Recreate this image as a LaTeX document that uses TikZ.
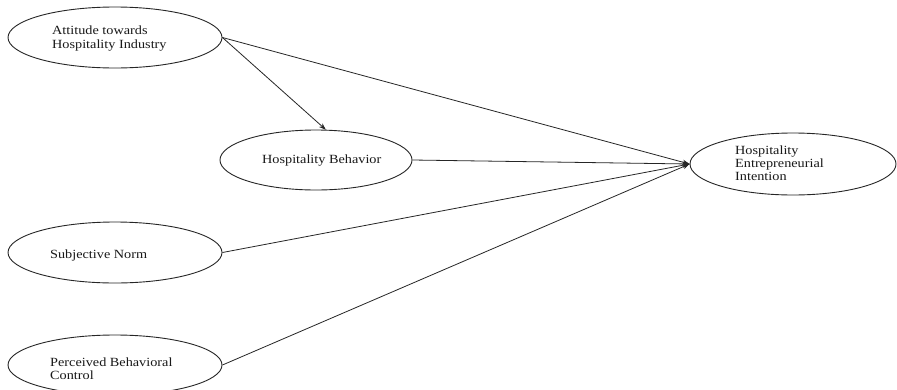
\documentclass[tikz,border=0pt]{standalone}
\usepackage{fontspec}
\setmainfont{Liberation Serif}[FakeStretch=1.14]
\usetikzlibrary{shapes.geometric,arrows.meta}
\begin{document}
\begin{tikzpicture}[x=1pt,y=-1pt,
  oval/.style={draw=black!85,line width=0.9pt,ellipse,inner sep=0pt},
  lbl/.style={anchor=west,inner sep=0pt,align=left,text=black!90,
    font=\fontsize{12.5}{13.2}\selectfont},
  link/.style={draw=black!85,line width=0.8pt,-{Stealth[length=7pt,width=5pt]}}]
\useasboundingbox (0,0) rectangle (897,389);
\clip (0,0) rectangle (897,389);
\fill[white] (0,0) rectangle (897,389);
\node[oval,minimum width=214pt,minimum height=61pt] (att) at (115,37.5) {};
\node[oval,minimum width=192pt,minimum height=60pt] (hb) at (316,160) {};
\node[oval,minimum width=206pt,minimum height=62pt] (hei) at (793,164) {};
\node[oval,minimum width=214pt,minimum height=61pt] (sn) at (115,252.5) {};
\node[oval,minimum width=214pt,minimum height=60pt] (pbc) at (115,365) {};
\node[lbl] (tatt) at (52,38.5) {Attitude towards\\Hospitality Industry};
\node[lbl] (thb) at (262,161) {Hospitality Behavior};
\node[lbl] (thei) at (735,163.5) {Hospitality\\Entrepreneurial\\Intention};
\node[lbl] (tsn) at (50,255) {Subjective Norm};
\node[lbl] (tpbc) at (50,368.5) {Perceived Behavioral\\Control};
\draw[link] (att.east) -- (hb.72);
\draw[link] (att.east) -- (hei.west);
\draw[link] (hb.east) -- (hei.west);
\draw[link] (sn.east) -- (hei.west);
\draw[link] (pbc.east) -- (hei.west);
\end{tikzpicture}
\end{document}
